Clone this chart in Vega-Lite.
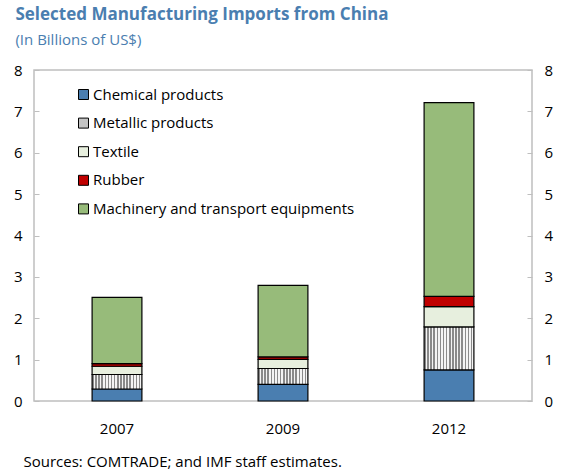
{
  "$schema": "https://vega.github.io/schema/vega-lite/v6.json",
  "autosize": "none",
  "width": 498,
  "height": 331,
  "padding": {"left": 34, "top": 70, "right": 31, "bottom": 74},
  "config": {
    "font": "Open Sans",
    "view": {"stroke": "#bfbfbf", "strokeWidth": 1.5}
  },
  "title": {
    "text": "Selected Manufacturing  Imports from China",
    "subtitle": "(In Billions of US$)",
    "anchor": "start",
    "dx": 2,
    "offset": 14,
    "color": "#4a7eb0",
    "fontSize": 17,
    "fontWeight": "bold",
    "subtitleColor": "#4a7eb0",
    "subtitleFontSize": 15,
    "subtitleFontWeight": "normal",
    "subtitlePadding": 9
  },
  "data": {
    "values": [
      {"year": "2007", "category": "Chemical products", "value": 0.29},
      {"year": "2007", "category": "Metallic products", "value": 0.35},
      {"year": "2007", "category": "Textile", "value": 0.20},
      {"year": "2007", "category": "Rubber", "value": 0.065},
      {"year": "2007", "category": "Machinery and transport equipments", "value": 1.60},
      {"year": "2009", "category": "Chemical products", "value": 0.40},
      {"year": "2009", "category": "Metallic products", "value": 0.385},
      {"year": "2009", "category": "Textile", "value": 0.22},
      {"year": "2009", "category": "Rubber", "value": 0.06},
      {"year": "2009", "category": "Machinery and transport equipments", "value": 1.73},
      {"year": "2012", "category": "Chemical products", "value": 0.75},
      {"year": "2012", "category": "Metallic products", "value": 1.04},
      {"year": "2012", "category": "Textile", "value": 0.49},
      {"year": "2012", "category": "Rubber", "value": 0.25},
      {"year": "2012", "category": "Machinery and transport equipments", "value": 4.68}
    ]
  },
  "encoding": {
    "x": {
      "field": "year",
      "type": "nominal",
      "scale": {"paddingInner": 0.7, "paddingOuter": 0.35},
      "axis": {
        "labelAngle": 0,
        "ticks": false,
        "domain": false,
        "labelFontSize": 15,
        "labelPadding": 20,
        "labelColor": "black",
        "title": "Sources: COMTRADE; and IMF staff estimates.",
        "titleAnchor": "start",
        "titleAlign": "left",
        "titleX": -11,
        "titleY": 60,
        "titleBaseline": "middle",
        "titleFontSize": 15,
        "titleFontWeight": "normal",
        "titleColor": "black"
      }
    }
  },
  "layer": [
    {
      "transform": [
        {"calculate": "indexof(['Chemical products', 'Metallic products', 'Textile', 'Rubber', 'Machinery and transport equipments'], datum.category)", "as": "stackKey"}
      ],
      "mark": {"type": "bar", "stroke": "black", "strokeWidth": 1.2},
      "encoding": {
        "y": {
          "field": "value",
          "type": "quantitative",
          "stack": "zero",
          "scale": {"domain": [0, 8], "nice": false},
          "axis": {
            "orient": "left",
            "title": null,
            "grid": false,
            "domain": false,
            "values": [0, 1, 2, 3, 4, 5, 6, 7, 8],
            "tickSize": -5,
            "tickColor": "#bfbfbf",
            "labelFontSize": 15,
            "labelColor": "black",
            "labelPadding": 17
          }
        },
        "order": {"field": "stackKey", "type": "quantitative", "sort": "ascending"},
        "color": {
          "field": "category",
          "type": "nominal",
          "sort": ["Chemical products", "Metallic products", "Textile", "Rubber", "Machinery and transport equipments"],
          "condition": {
            "test": "datum.category === 'Metallic products'",
            "value": {"gradient": "linear", "x1": 0, "y1": 0, "x2": 1, "y2": 0, "stops": [
                {"offset": 0, "color": "#8a8a8a"}, {"offset": 0.03125, "color": "#8a8a8a"}, {"offset": 0.03125, "color": "#f4f4f4"}, {"offset": 0.0625, "color": "#f4f4f4"},
                {"offset": 0.0625, "color": "#8a8a8a"}, {"offset": 0.09375, "color": "#8a8a8a"}, {"offset": 0.09375, "color": "#f4f4f4"}, {"offset": 0.125, "color": "#f4f4f4"},
                {"offset": 0.125, "color": "#8a8a8a"}, {"offset": 0.15625, "color": "#8a8a8a"}, {"offset": 0.15625, "color": "#f4f4f4"}, {"offset": 0.1875, "color": "#f4f4f4"},
                {"offset": 0.1875, "color": "#8a8a8a"}, {"offset": 0.21875, "color": "#8a8a8a"}, {"offset": 0.21875, "color": "#f4f4f4"}, {"offset": 0.25, "color": "#f4f4f4"},
                {"offset": 0.25, "color": "#8a8a8a"}, {"offset": 0.28125, "color": "#8a8a8a"}, {"offset": 0.28125, "color": "#f4f4f4"}, {"offset": 0.3125, "color": "#f4f4f4"},
                {"offset": 0.3125, "color": "#8a8a8a"}, {"offset": 0.34375, "color": "#8a8a8a"}, {"offset": 0.34375, "color": "#f4f4f4"}, {"offset": 0.375, "color": "#f4f4f4"},
                {"offset": 0.375, "color": "#8a8a8a"}, {"offset": 0.40625, "color": "#8a8a8a"}, {"offset": 0.40625, "color": "#f4f4f4"}, {"offset": 0.4375, "color": "#f4f4f4"},
                {"offset": 0.4375, "color": "#8a8a8a"}, {"offset": 0.46875, "color": "#8a8a8a"}, {"offset": 0.46875, "color": "#f4f4f4"}, {"offset": 0.5, "color": "#f4f4f4"},
                {"offset": 0.5, "color": "#8a8a8a"}, {"offset": 0.53125, "color": "#8a8a8a"}, {"offset": 0.53125, "color": "#f4f4f4"}, {"offset": 0.5625, "color": "#f4f4f4"},
                {"offset": 0.5625, "color": "#8a8a8a"}, {"offset": 0.59375, "color": "#8a8a8a"}, {"offset": 0.59375, "color": "#f4f4f4"}, {"offset": 0.625, "color": "#f4f4f4"},
                {"offset": 0.625, "color": "#8a8a8a"}, {"offset": 0.65625, "color": "#8a8a8a"}, {"offset": 0.65625, "color": "#f4f4f4"}, {"offset": 0.6875, "color": "#f4f4f4"},
                {"offset": 0.6875, "color": "#8a8a8a"}, {"offset": 0.71875, "color": "#8a8a8a"}, {"offset": 0.71875, "color": "#f4f4f4"}, {"offset": 0.75, "color": "#f4f4f4"},
                {"offset": 0.75, "color": "#8a8a8a"}, {"offset": 0.78125, "color": "#8a8a8a"}, {"offset": 0.78125, "color": "#f4f4f4"}, {"offset": 0.8125, "color": "#f4f4f4"},
                {"offset": 0.8125, "color": "#8a8a8a"}, {"offset": 0.84375, "color": "#8a8a8a"}, {"offset": 0.84375, "color": "#f4f4f4"}, {"offset": 0.875, "color": "#f4f4f4"},
                {"offset": 0.875, "color": "#8a8a8a"}, {"offset": 0.90625, "color": "#8a8a8a"}, {"offset": 0.90625, "color": "#f4f4f4"}, {"offset": 0.9375, "color": "#f4f4f4"},
                {"offset": 0.9375, "color": "#8a8a8a"}, {"offset": 0.96875, "color": "#8a8a8a"}, {"offset": 0.96875, "color": "#f4f4f4"}, {"offset": 1, "color": "#f4f4f4"}
            ]}
          },
          "scale": {
            "domain": ["Chemical products", "Metallic products", "Textile", "Rubber", "Machinery and transport equipments"],
            "range": ["#4a7eb0", "#c4c4c4", "#e7efde", "#c00000", "#97bb7a"]
          },
          "legend": {
            "orient": "none",
            "legendX": 42,
            "legendY": 17,
            "title": null,
            "symbolType": "square",
            "symbolSize": 100,
            "symbolStrokeColor": "black",
            "symbolStrokeWidth": 1,
            "symbolOpacity": 1,
            "labelFontSize": 15,
            "labelColor": "black",
            "labelOffset": 2,
            "labelLimit": 400,
            "rowPadding": 12.6,
            "encode": {
              "symbols": {
                "update": {
                  "stroke": {"value": "black"},
                  "strokeWidth": {"value": 1},
                  "fill": [
                    {"test": "datum.label === 'Metallic products'", "value": {"gradient": "linear", "x1": 0, "y1": 0, "x2": 1, "y2": 0, "stops": [
                      {"offset": 0, "color": "#7a7a7a"}, {"offset": 0.125, "color": "#7a7a7a"}, {"offset": 0.125, "color": "#ffffff"}, {"offset": 0.25, "color": "#ffffff"},
                      {"offset": 0.25, "color": "#7a7a7a"}, {"offset": 0.375, "color": "#7a7a7a"}, {"offset": 0.375, "color": "#ffffff"}, {"offset": 0.5, "color": "#ffffff"},
                      {"offset": 0.5, "color": "#7a7a7a"}, {"offset": 0.625, "color": "#7a7a7a"}, {"offset": 0.625, "color": "#ffffff"}, {"offset": 0.75, "color": "#ffffff"},
                      {"offset": 0.75, "color": "#7a7a7a"}, {"offset": 0.875, "color": "#7a7a7a"}, {"offset": 0.875, "color": "#ffffff"}, {"offset": 1, "color": "#ffffff"}
                    ]}},
                    {"scale": "color", "field": "value"}
                  ]
                }
              }
            }
          }
        }
      }
    },
    {
      "mark": {"type": "bar", "opacity": 0},
      "encoding": {
        "y": {
          "field": "value",
          "type": "quantitative",
          "aggregate": "sum",
          "scale": {"domain": [0, 8], "nice": false},
          "axis": {
            "orient": "right",
            "title": null,
            "grid": false,
            "domain": false,
            "values": [0, 1, 2, 3, 4, 5, 6, 7, 8],
            "tickSize": -5,
            "tickColor": "#bfbfbf",
            "labelFontSize": 15,
            "labelColor": "black",
            "labelPadding": 17
          }
        }
      }
    }
  ],
  "resolve": {"axis": {"y": "independent"}}
}
